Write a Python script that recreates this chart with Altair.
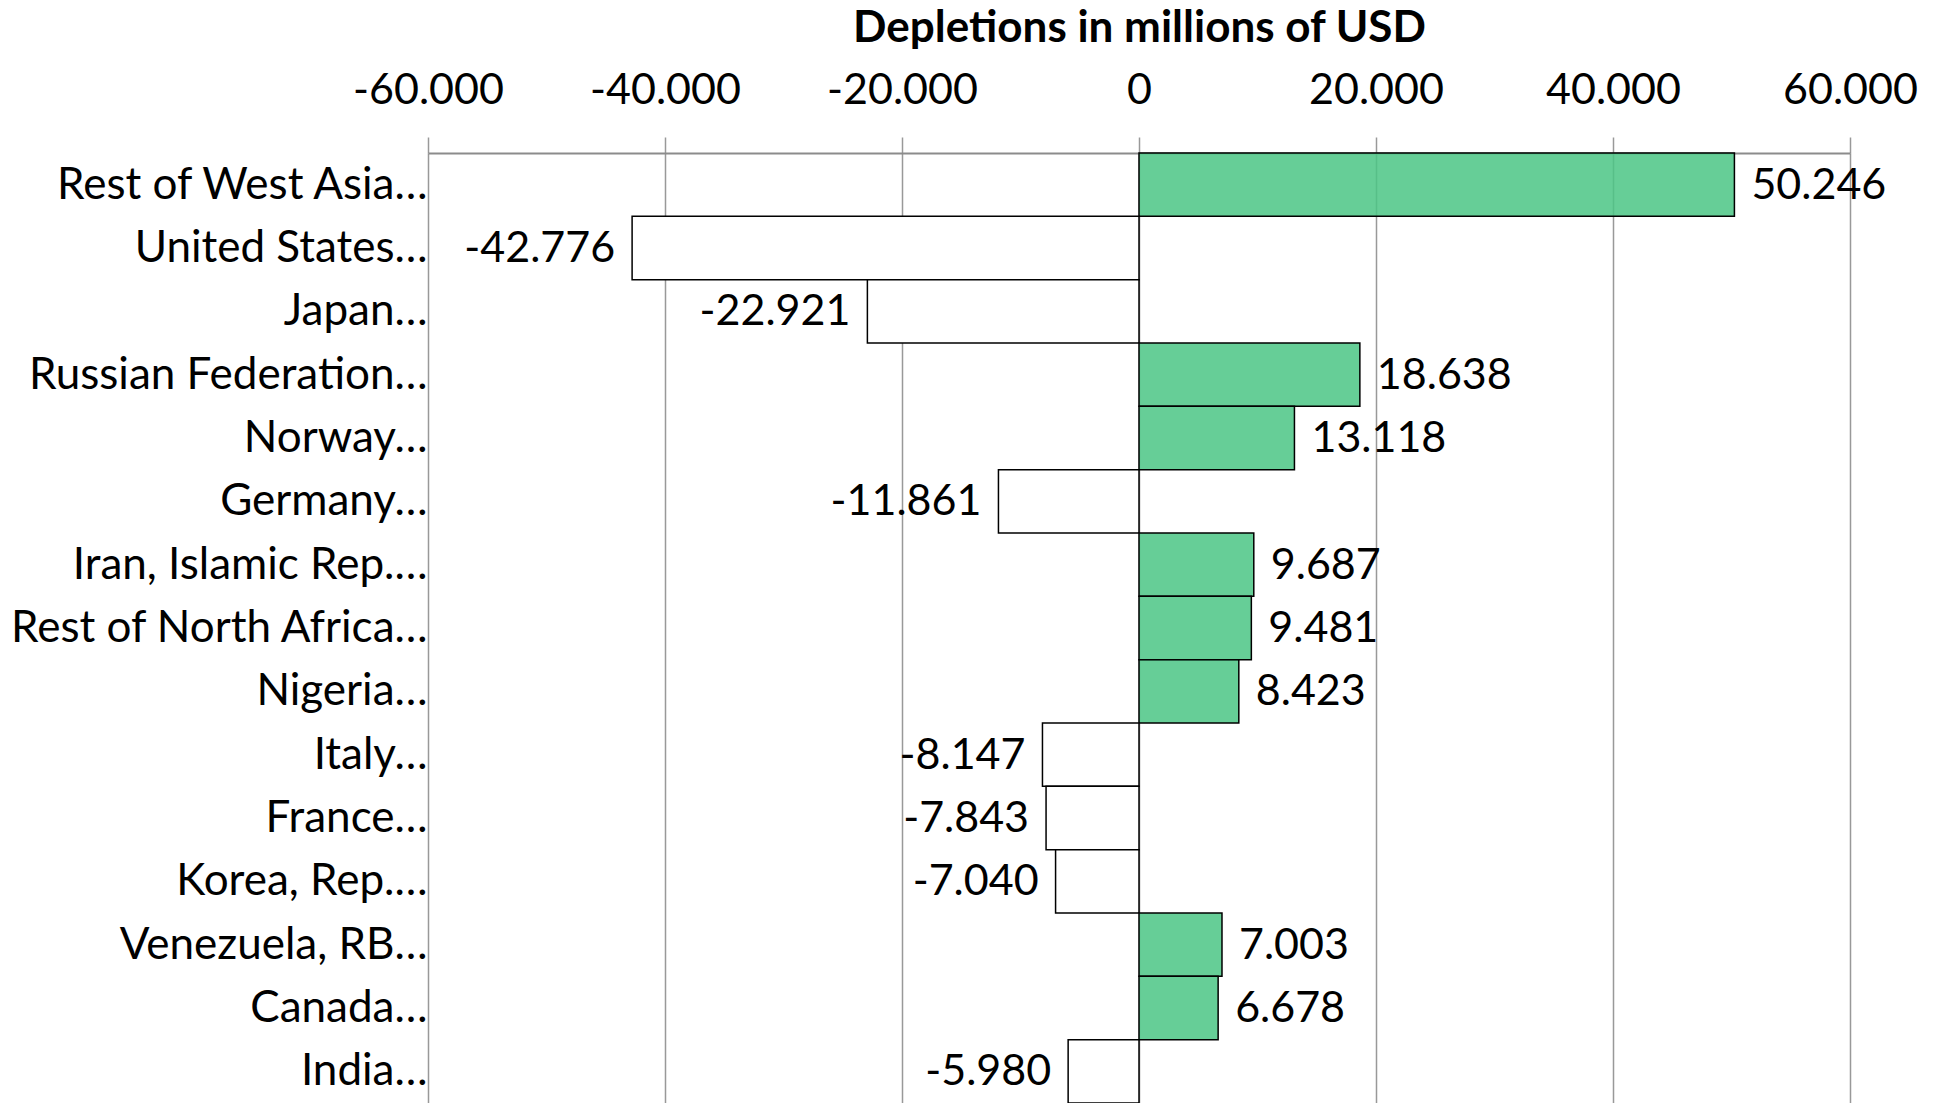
import altair as alt
import pandas as pd

# Depletions by economy (millions of USD)
countries = [
    "Rest of West Asia…",
    "United States…",
    "Japan…",
    "Russian Federation…",
    "Norway…",
    "Germany…",
    "Iran, Islamic Rep.…",
    "Rest of North Africa…",
    "Nigeria…",
    "Italy…",
    "France…",
    "Korea, Rep.…",
    "Venezuela, RB…",
    "Canada…",
    "India…",
]
depletions = [
    50246, -42776, -22921, 18638, 13118, -11861, 9687, 9481,
    8423, -8147, -7843, -7040, 7003, 6678, -5980,
]
x_ticks = [-60000, -40000, -20000, 0, 20000, 40000, 60000]

df = pd.DataFrame({"country": countries, "value": depletions})

# number format with "." as thousands separator and a plain hyphen for negatives
fmt = "(datum.value < 0 ? '-' : '') + replace(format(abs(datum.value), ','), ',', '.')"

FONT = "Lato"
GREEN = "#4BC585"

x_enc = alt.X(
    "value:Q",
    scale=alt.Scale(domain=[-60000, 60000], nice=False, zero=False),
    axis=alt.Axis(
        orient="top",
        values=x_ticks,
        labelExpr=fmt,
        title="Depletions in millions of USD",
        titleFont=FONT,
        titleFontSize=44,
        titleFontWeight="bold",
        titleColor="black",
        titleBaseline="middle",
        titleY=-125,
        labelFont=FONT,
        labelFontSize=43,
        labelColor="black",
        labelBaseline="middle",
        labelPadding=47,
        labelFlush=False,
        labelOverlap=False,
        tickSize=16,
        tickColor="#999999",
        tickWidth=1.5,
        domainColor="#8c8c8c",
        domainWidth=2,
        grid=True,
        gridColor="#999999",
        gridWidth=1.5,
    ),
)

y_enc = alt.Y(
    "country:N",
    sort=countries,
    scale=alt.Scale(paddingInner=0, paddingOuter=0),
    axis=alt.Axis(
        title=None,
        domain=False,
        ticks=False,
        grid=False,
        labelFont=FONT,
        labelFontSize=44,
        labelColor="black",
        labelPadding=1,
        labelOffset=1,
        labelLimit=0,
    ),
)

base = alt.Chart(df).transform_calculate(label=fmt)

bars = base.mark_bar(stroke="black", strokeWidth=1.5).encode(
    x=x_enc,
    y=y_enc,
    fill=alt.condition("datum.value > 0", alt.value(GREEN), alt.value("white")),
    fillOpacity=alt.condition("datum.value > 0", alt.value(0.85), alt.value(1)),
)

pos_labels = base.transform_filter("datum.value > 0").mark_text(
    align="left", baseline="middle", dx=17, dy=1, font=FONT, fontSize=43, color="black"
).encode(x="value:Q", y=alt.Y("country:N", sort=countries), text="label:N")

neg_labels = base.transform_filter("datum.value < 0").mark_text(
    align="right", baseline="middle", dx=-17, dy=1, font=FONT, fontSize=43, color="black"
).encode(x="value:Q", y=alt.Y("country:N", sort=countries), text="label:N")

chart = (
    alt.layer(bars, pos_labels, neg_labels)
    .properties(
        width=1422,
        height=950,
        padding={"left": 428, "top": 153, "right": 89, "bottom": 0},
        autosize="none",
        background="white",
    )
    .configure_view(stroke=None)
)

chart.save("out.html", embed_options={"renderer": "svg", "actions": False})
